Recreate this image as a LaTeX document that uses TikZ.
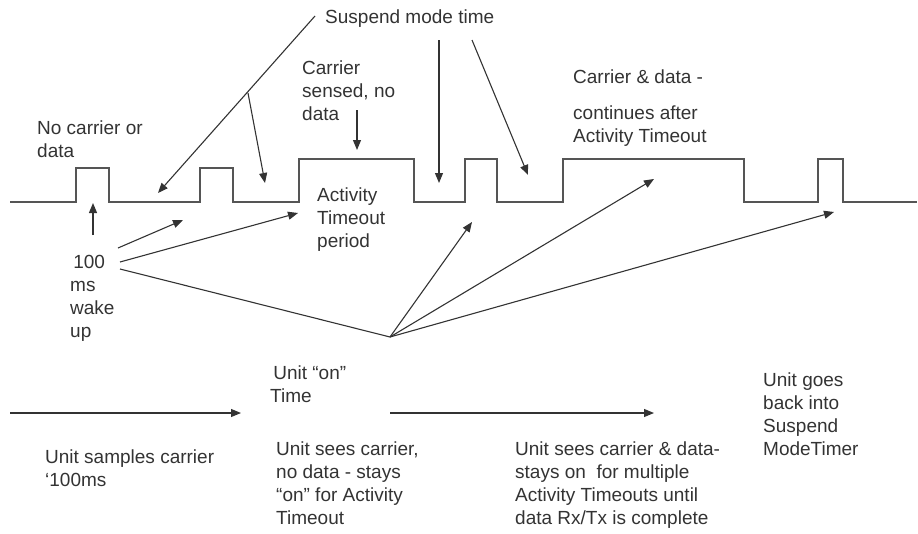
\documentclass[tikz,border=0pt]{standalone}
\usepackage{fontspec}
\setmainfont{Liberation Sans}
\usetikzlibrary{arrows.meta}
\definecolor{ink}{HTML}{333333}
\definecolor{wave}{HTML}{555555}
\begin{document}
\begin{tikzpicture}[x=1pt,y=-1pt,
  lbl/.style={anchor=base west,inner sep=0pt,align=left,text=ink,font=\fontsize{19}{23}\selectfont},
  conn/.style={draw=ink,line width=1.1pt},
  arr/.style={conn,-{Triangle[length=10pt,width=8pt]}},
  sig/.style={draw=wave,line width=1.4pt}]
\useasboundingbox (0,0) rectangle (918,533);
% waveform
\draw[sig] (10,202) -- (76,202) -- (76,168) -- (109,168) -- (109,202)
  -- (200,202) -- (200,168) -- (233,168) -- (233,202)
  -- (299,202) -- (299,159) -- (414,159) -- (414,202)
  -- (465,202) -- (465,159) -- (497,159) -- (497,202)
  -- (563,202) -- (563,159) -- (744,159) -- (744,202)
  -- (818,202) -- (818,159) -- (843,159) -- (843,202) -- (917,202);
% labels (anchor = baseline of the last line)
\node[lbl] (susp) at (325,23) {Suspend mode time};
\node[lbl] (cs) at (302,120) {Carrier\\sensed, no\\data};
\node[lbl] (nocar) at (37,157) {No carrier or\\data};
\node[lbl] (act) at (317,247) {Activity\\Timeout\\period};
\node[lbl] (wake) at (70,337) {\,100\\ms\\wake\\up};
\node[lbl] (cd) at (573,142) {Carrier \& data -\\[13pt]continues after\\Activity Timeout};
\node[lbl] (on) at (270,402) {\,Unit “on”\\Time};
\node[lbl] (samp) at (45,486) {Unit samples carrier\\‘100ms};
\node[lbl] (sees1) at (276,524) {Unit sees carrier,\\no data - stays\\“on” for Activity\\Timeout};
\node[lbl] (sees2) at (515,524) {Unit sees carrier \& data-\\stays on\ \ for multiple\\Activity Timeouts until\\data Rx/Tx is complete};
\node[lbl] (back) at (763,455) {Unit goes\\back into\\Suspend\\ModeTimer};
% coordinates
\coordinate (sA) at (315,16);
\coordinate (sAt) at (158,193);
\coordinate (sBr) at (248,93);
\coordinate (sBt) at (265,183);
\coordinate (sC) at (439,40);
\coordinate (sCt) at (439,183);
\coordinate (sD) at (472,40);
\coordinate (sDt) at (528,175);
\coordinate (csA) at (357,110);
\coordinate (csAt) at (357,150);
\coordinate (wA) at (93,235);
\coordinate (wAt) at (93,203);
\coordinate (wB) at (118,248);
\coordinate (wBt) at (183,220);
\coordinate (wC) at (120,262);
\coordinate (wCt) at (298,213);
\coordinate (wD) at (120,269);
\coordinate (fan) at (390,337);
\coordinate (fAt) at (472,222);
\coordinate (fBt) at (654,179);
\coordinate (fCt) at (834,212);
\coordinate (h1a) at (10,413);
\coordinate (h1b) at (241,413);
\coordinate (h2a) at (390,413);
\coordinate (h2b) at (654,413);
% suspend arrows
\draw[arr] (sA) -- (sAt);
\draw[arr] (sBr) -- (sBt);
\draw[arr] (sC) -- (sCt);
\draw[arr] (sD) -- (sDt);
\draw[arr] (csA) -- (csAt);
% wake arrows
\draw[arr] (wA) -- (wAt);
\draw[arr] (wB) -- (wBt);
\draw[arr] (wC) -- (wCt);
\draw[conn] (wD) -- (fan);
\draw[arr] (fan) -- (fAt);
\draw[arr] (fan) -- (fBt);
\draw[arr] (fan) -- (fCt);
% time arrows
\draw[arr] (h1a) -- (h1b);
\draw[arr] (h2a) -- (h2b);
\end{tikzpicture}
\end{document}
